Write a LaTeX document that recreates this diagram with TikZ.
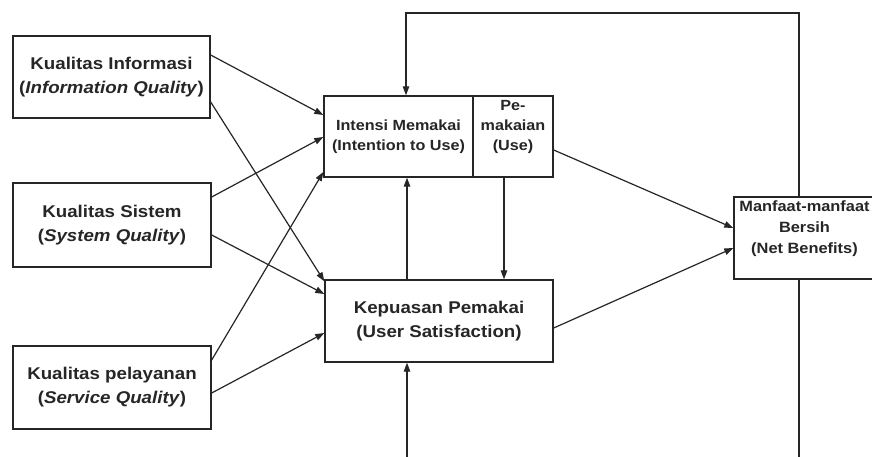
\documentclass[tikz,border=0pt]{standalone}
\usepackage{fontspec}
\setmainfont{Liberation Sans}[FakeStretch=1.1]
\usetikzlibrary{arrows.meta}
\begin{document}
\begin{tikzpicture}[x=1pt,y=-1pt,
  box/.style={draw=black!85, line width=1.4pt, rectangle, inner sep=0pt},
  txt/.style={align=center, text=black!85, inner sep=0pt},
  big/.style={txt, font=\bfseries\fontsize{17}{24}\selectfont},
  mid/.style={txt, font=\bfseries\fontsize{14.7}{20}\selectfont},
  sml/.style={txt, font=\bfseries\fontsize{14.9}{21}\selectfont},
  link/.style={draw=black!85, line width=1.2pt, -{Triangle[length=9pt,width=6.5pt]}},
]
\useasboundingbox[fill=white] (0,0) rectangle (872,457);

% quality constructs on the left
\node[box,big,minimum width=197pt,minimum height=82pt] (info) at (111.5,77)
  {Kualitas Informasi\\(\textit{Information Quality})};
\node[box,big,minimum width=198pt,minimum height=84pt] (sys) at (112,225)
  {Kualitas Sistem\\(\textit{System Quality})};
\node[box,big,minimum width=198pt,minimum height=83pt] (serv) at (112,387.5)
  {Kualitas pelayanan\\(\textit{Service Quality})};

% intention to use / use (split box)
\node[box,mid,minimum width=149pt,minimum height=81pt] (intent) at (398.5,136.5)
  {Intensi Memakai\\(Intention to Use)};
\node[box,minimum width=80pt,minimum height=81pt] (use) at (513,136.5) {};
\node[mid] (usetext) at (513,126.5) {Pe-\\makaian\\(Use)};

% user satisfaction
\node[box,big,minimum width=228pt,minimum height=82pt] (sat) at (439,321)
  {Kepuasan Pemakai\\(User Satisfaction)};

% net benefits
\node[box,minimum width=146pt,minimum height=82pt] (net) at (807,238) {};
\node[sml] (nettext) at (804.5,229) {Manfaat-manfaat\\Bersih\\(Net Benefits)};

% quality -> intention / satisfaction
\draw[link] (info.east |- 0,55)  -- (intent.west |- 0,115);
\draw[link] (info.east |- 0,102) -- ([yshift=-2pt]sat.north west);
\draw[link] (sys.east |- 0,197)  -- (intent.west |- 0,137);
\draw[link] (sys.east |- 0,235)  -- (sat.west |- 0,294);
\draw[link] (serv.east |- 0,360) -- (intent.west |- 0,172);
\draw[link] (serv.east |- 0,393) -- (sat.west |- 0,333);

% use / satisfaction -> net benefits
\draw[link] (use.east |- 0,150) -- (net.west |- 0,228);
\draw[link] (sat.east |- 0,328) -- (net.west |- 0,248);

% links between intention/use and satisfaction
\draw[link] (sat.north -| 407,0) -- (intent.south -| 407,0);
\draw[link] (use.south -| 504,0) -- (sat.north -| 504,0);

% feedback loops from net benefits
\coordinate (topR) at (799,13);
\coordinate (topL) at (406,13);
\coordinate (botR) at (799,463);
\coordinate (botL) at (407,463);
\draw[link] (net.north -| topR) -- (topR) -- (topL) -- (intent.north -| topL);
\draw[link] (net.south -| botR) -- (botR) -- (botL) -- (sat.south -| botL);
\end{tikzpicture}
\end{document}
